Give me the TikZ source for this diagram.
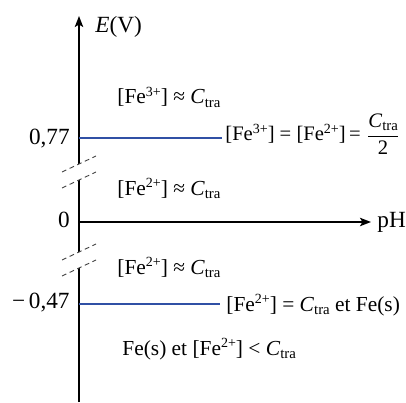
\documentclass[tikz,border=0pt]{standalone}
\usepackage{amsmath}
\usepackage{fontspec}
\setmainfont{Liberation Serif}
\usetikzlibrary{arrows.meta, positioning, calc}
\definecolor{NiveauBlue}{RGB}{48,80,165}
\newcommand{\Ctra}{\textit{C}\raisebox{-0.17em}{\fontsize{7.4}{8}\selectfont tra}}
\newcommand{\ionFe}[1]{[Fe\raisebox{0.36em}{\fontsize{7}{8}\selectfont #1}]}
\tikzset{
  >={Stealth[length=5.5pt,width=4.2pt,inset=1.2pt]},  % pointes des axes
  axe/.style={->, line width=0.75pt},
  niveau/.style={line width=1.3pt, NiveauBlue},
  coupure/.style={line width=0.45pt, black!75, dash pattern=on 2.4pt off 1.8pt},
  lbl/.style={inner sep=0pt, font=\fontsize{11.6}{13}\selectfont},
  etiq/.style={inner sep=0pt, font=\fontsize{10.7}{13}\selectfont}
}

\begin{document}
\begin{tikzpicture}[x=0.5pt, y=0.5pt]
  \useasboundingbox (0,0) rectangle (406,402);
  % axes
  \coordinate (O) at (79,180);
  \coordinate (Ebas) at (79,0);
  \coordinate (Ehaut) at (79,386);
  \node[lbl, anchor=base west] (pH) at (377,175) {pH};
  \node[lbl, anchor=base west] (E) at (95,369) {\textit{E}(V)};
  \draw[axe] (Ebas) -- (Ehaut);
  \draw[axe, shorten >=3pt] (O) -- (O -| pH.west);
  % coupures de l'axe
  \foreach \yb in {230,142}{
    \fill[white] (62,\yb-16) -- (96,\yb) -- (96,\yb+16) -- (62,\yb) -- cycle;
    \draw[coupure] (62,\yb) -- (96,\yb+16);
    \draw[coupure] (62,\yb-16) -- (96,\yb);
  }
  % graduations
  \node[lbl, anchor=base east] (g77) at (70,257) {0,77};
  \node[lbl, anchor=base east] (g0) at (70,175) {0};
  \node[lbl, anchor=base east] (g47) at (70,94) {−\,0,47};
  % frontieres
  \coordinate (n77) at (79,264);
  \coordinate (n47) at (79,98);
  \node[etiq, anchor=base west, font=\fontsize{10.3}{13}\selectfont] (f77) at (225,261)
    {\ionFe{3+} = \ionFe{2+}\,= $\dfrac{\mbox{\Ctra}}{\mbox{2}}$};
  \node[etiq, anchor=base west] (f47) at (226,91) {\ionFe{2+} = \Ctra{} et Fe(s)};
  \draw[niveau, shorten >=1.5pt] (n77) -- (n77 -| f77.west);
  \draw[niveau, shorten >=3pt] (n47) -- (n47 -| f47.west);
  % domaines
  \node[etiq, anchor=base west] (d3) at (117,298) {\ionFe{3+} ≈ \Ctra};
  \node[etiq, anchor=base west] (d2a) at (117,207) {\ionFe{2+} ≈ \Ctra};
  \node[etiq, anchor=base west] (d2b) at (117,128) {\ionFe{2+} ≈ \Ctra};
  \node[etiq, anchor=base west] (dFe) at (122,47) {Fe(s) et \ionFe{2+} < \Ctra};
\end{tikzpicture}
\end{document}
